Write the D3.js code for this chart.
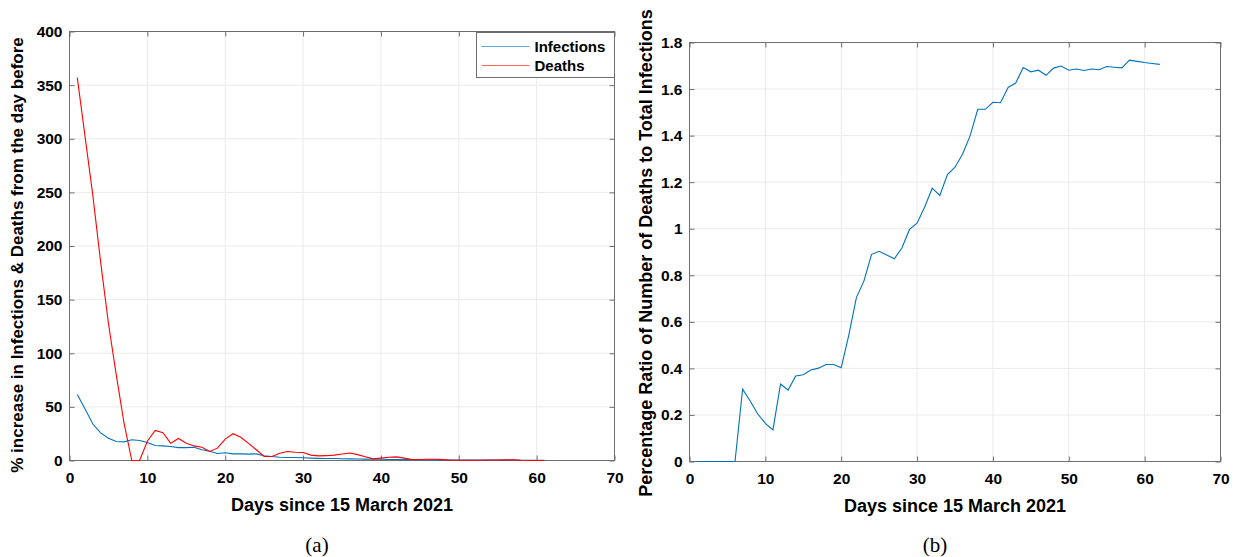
<!DOCTYPE html>
<html>
<head>
<meta charset="utf-8">
<script src="https://cdn.jsdelivr.net/npm/d3@7"></script>
<style>
    body { margin: 0; background: #fff; }
    svg text { font-family: "Liberation Sans", Arial, sans-serif; }
</style>
</head>
<body>
<div id="chart"></div>
<script>
// values, one per day starting at day 1
const infectionsPct = [
    61.5, 48, 34, 25.8, 20.8, 17.7, 17.4, 19.3, 18.6, 16.8,
    14, 13.6, 13, 12, 12, 12.4, 10, 8.7, 6.5, 7.2,
    6.2, 6.2, 5.9, 6.2, 4.5, 3.7, 3, 2.8, 2.8, 2.5,
    2.2, 2.0, 1.9, 1.8, 1.6, 1.5, 1.4, 1.3, 1.2, 1.1,
    1.0, 0.9, 0.8, 0.8, 0.7, 0.7, 0.6, 0.6, 0.5, 0.5,
    0.5, 0.4, 0.4, 0.4, 0.4, 0.5, 0.4, 0.3, 0.3, 0.3, 0.3
];
const deathsPct = [
    357, 302, 247, 185, 128, 80, 35, 0, 0, 18,
    28, 26, 16, 20.5, 16, 13.6, 12.4, 8.4, 11.5, 20,
    25, 21.7, 16, 10, 3.7, 3.7, 6.8, 8.4, 7.7, 7.5,
    5, 4.3, 4.5, 5, 6, 7, 5.5, 3.5, 1.5, 2.2,
    3, 3.4, 2.2, 1, 1, 1.2, 1.2, 0.8, 0.3, 0.3,
    0.3, 0.2, 0.3, 0.4, 0.5, 0.6, 0.6, 0.2, 0, 0, 0
];
const deathRatio = [
    0, 0, 0, 0, 0, 0, 0.311, 0.26, 0.204, 0.164,
    0.136, 0.333, 0.307, 0.367, 0.373, 0.393, 0.401, 0.417, 0.417, 0.403,
    0.543, 0.704, 0.776, 0.89, 0.903, 0.887, 0.871, 0.917, 0.997, 1.024,
    1.093, 1.174, 1.143, 1.233, 1.264, 1.321, 1.4, 1.513, 1.513, 1.543,
    1.541, 1.607, 1.626, 1.693, 1.674, 1.681, 1.659, 1.69, 1.699, 1.681,
    1.686, 1.68, 1.686, 1.683, 1.697, 1.694, 1.691, 1.724, 1.719, 1.714,
    1.71, 1.706
];
const xTicks = [0, 10, 20, 30, 40, 50, 60, 70];
const yTicksA = [0, 50, 100, 150, 200, 250, 300, 350, 400];
const yTicksB = [0, 0.2, 0.4, 0.6, 0.8, 1, 1.2, 1.4, 1.6, 1.8];
const legendLabels = ['Infections', 'Deaths'];

const BLUE = '#0072BD', RED = '#FF0000';
const AXIS = '#6e6e6e', GRID = '#ebebeb';

const svg = d3.select('#chart').append('svg')
    .attr('width', 1237).attr('height', 557);

function drawPanel(opt) {
    const { left, top, right, bottom } = opt.box;
    const x = d3.scaleLinear().domain([0, 70]).range([left, right]);
    const y = d3.scaleLinear().domain(opt.yDomain).range([bottom, top]);
    const g = svg.append('g');

    // grid
    g.append('g').selectAll('line').data(xTicks.slice(1, -1)).join('line')
        .attr('x1', d => x(d)).attr('x2', d => x(d))
        .attr('y1', top).attr('y2', bottom)
        .attr('stroke', GRID).attr('stroke-width', 1);
    g.append('g').selectAll('line').data(opt.yTicks.slice(1, -1)).join('line')
        .attr('x1', left).attr('x2', right)
        .attr('y1', d => y(d)).attr('y2', d => y(d))
        .attr('stroke', GRID).attr('stroke-width', 1);

    // axes, ticks pointing inward like matlab
    const styleAxis = sel => {
        sel.select('.domain').remove();
        sel.selectAll('.tick line').attr('stroke', AXIS);
        sel.selectAll('.tick text')
            .attr('fill', '#000').style('font-size', '15.5px').style('font-weight', 'bold');
    };
    g.append('g').attr('transform', `translate(0,${bottom})`)
        .call(d3.axisBottom(x).tickValues(xTicks).tickSize(-5).tickPadding(11).tickFormat(d3.format('d')))
        .call(styleAxis);
    g.append('g').attr('transform', `translate(0,${top})`)
        .call(d3.axisTop(x).tickValues(xTicks).tickSize(-5).tickFormat(''))
        .call(styleAxis);
    g.append('g').attr('transform', `translate(${left},0)`)
        .call(d3.axisLeft(y).tickValues(opt.yTicks).tickSize(-5).tickPadding(7).tickFormat(opt.yFormat))
        .call(styleAxis);
    g.append('g').attr('transform', `translate(${right},0)`)
        .call(d3.axisRight(y).tickValues(opt.yTicks).tickSize(-5).tickFormat(''))
        .call(styleAxis);

    g.append('rect')
        .attr('x', left).attr('y', top)
        .attr('width', right - left).attr('height', bottom - top)
        .attr('fill', 'none').attr('stroke', AXIS).attr('stroke-width', 1);

    const line = d3.line().x((d, i) => x(i + 1)).y(d => y(d));
    opt.series.forEach(s => {
        g.append('path').datum(s.values)
            .attr('fill', 'none').attr('stroke', s.color).attr('stroke-width', 1.1)
            .attr('d', line);
    });

    // labels
    g.append('text')
        .attr('x', (left + right) / 2).attr('y', bottom + 50)
        .attr('text-anchor', 'middle')
        .style('font-size', '18px').style('font-weight', 'bold')
        .text('Days since 15 March 2021');
    g.append('text')
        .attr('transform', `translate(${opt.yLabelX},${(top + bottom) / 2 + opt.yLabelShift}) rotate(-90)`)
        .attr('text-anchor', 'middle')
        .style('font-size', opt.yLabelSize).style('font-weight', 'bold')
        .text(opt.yLabel);
    g.append('text')
        .attr('x', opt.captionX).attr('y', 552)
        .attr('text-anchor', 'middle')
        .style('font-family', '"Liberation Serif", "DejaVu Serif", serif')
        .style('font-size', '21px')
        .text(opt.caption);

    return { x, y, g };
}

const panelA = drawPanel({
    box: { left: 69.5, top: 31.5, right: 614.5, bottom: 460.5 },
    yDomain: [0, 400],
    yTicks: yTicksA,
    yFormat: d3.format('d'),
    yLabel: '% increase in Infections & Deaths from the day before',
    yLabelX: 23, yLabelShift: 9, yLabelSize: '17px',
    caption: '(a)', captionX: 317,
    series: [
        { values: infectionsPct, color: BLUE },
        { values: deathsPct, color: RED }
    ]
});

drawPanel({
    box: { left: 689.5, top: 42.5, right: 1220.5, bottom: 461.5 },
    yDomain: [0, 1.8],
    yTicks: yTicksB,
    yFormat: d => d3.format('~g')(d),
    yLabel: 'Percentage Ratio of Number of Deaths to Total Infections',
    yLabelX: 652, yLabelShift: 1, yLabelSize: '18px',
    caption: '(b)', captionX: 935,
    series: [{ values: deathRatio, color: BLUE }]
});

// legend for panel (a)
const legend = panelA.g.append('g').attr('transform', 'translate(476.5,32.5)');
legend.append('rect')
    .attr('width', 138).attr('height', 45)
    .attr('fill', '#fff').attr('stroke', AXIS).attr('stroke-width', 1);
[BLUE, RED].forEach((c, i) => {
    const yy = 14 + i * 19;
    legend.append('line')
        .attr('x1', 5).attr('x2', 53).attr('y1', yy).attr('y2', yy)
        .attr('stroke', c).attr('stroke-width', 1.1).attr('stroke-opacity', 0.6);
    legend.append('text')
        .attr('x', 58).attr('y', yy).attr('dy', '0.36em')
        .style('font-size', '15px').style('font-weight', 'bold')
        .text(legendLabels[i]);
});
</script>
</body>
</html>
